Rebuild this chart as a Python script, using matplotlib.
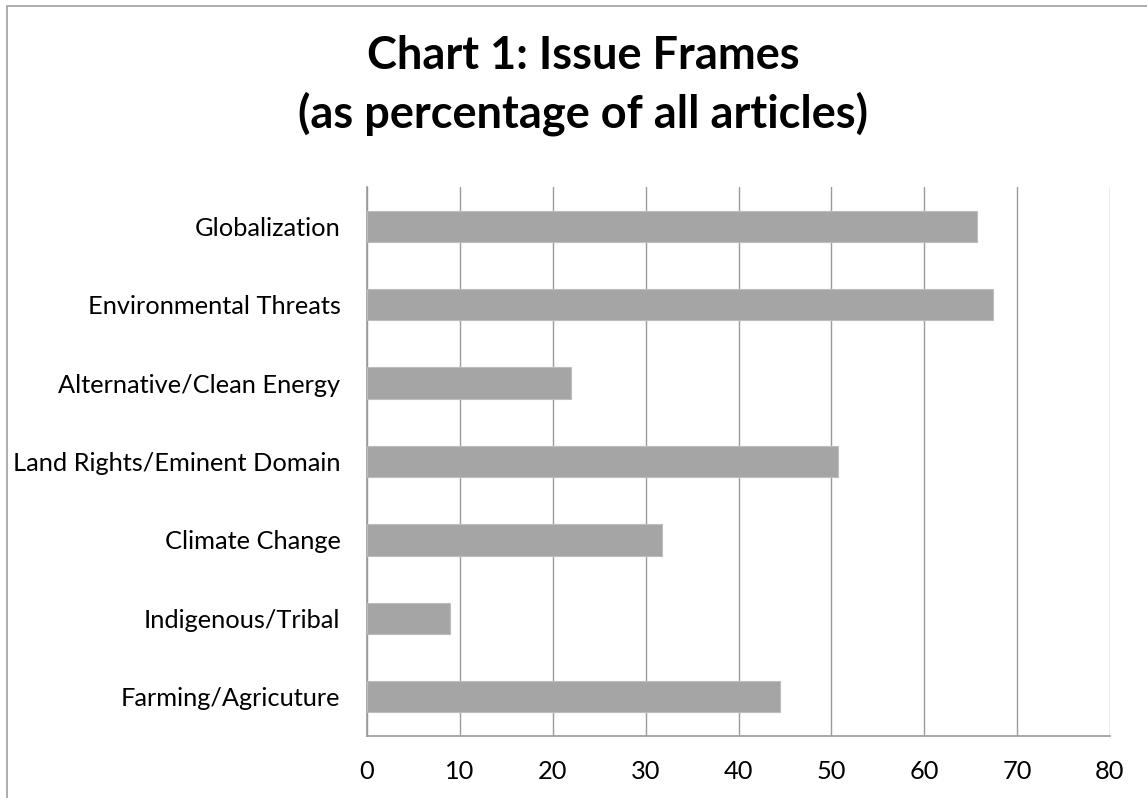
#!/usr/bin/env python3
"""Horizontal bar chart: issue frames as percentage of all articles."""

import matplotlib

matplotlib.use("Agg")
import matplotlib.pyplot as plt
from matplotlib.patches import Rectangle

# Data (top to bottom as shown in the chart)
CATEGORIES = [
    "Globalization",
    "Environmental Threats",
    "Alternative/Clean Energy",
    "Land Rights/Eminent Domain",
    "Climate Change",
    "Indigenous/Tribal",
    "Farming/Agricuture",
]
PERCENTAGES = [65.7, 67.4, 22.0, 50.7, 31.8, 8.9, 44.5]
X_TICKS = [0, 10, 20, 30, 40, 50, 60, 70, 80]

TITLE_LINES = ["Chart 1: Issue Frames", "(as percentage of all articles)"]

BAR_COLOR = "#a5a5a5"
BAR_EDGE = "#bdbdbd"
GRID = "#9a9a9a"
BORDER = "#a0a0a0"
INK = "#000000"

plt.rcParams["font.family"] = ["Lato", "DejaVu Sans"]

W, H = 1147, 798


def main():
    fig = plt.figure(figsize=(W / 100, H / 100), dpi=100)
    fig.patch.set_facecolor("white")

    # chart frame (right and bottom edges fall outside the picture)
    fig.patches.append(
        Rectangle((7 / W, -0.1), 1.2, (H - 6) / H + 0.1,
                  transform=fig.transFigure, fill=False,
                  edgecolor=BORDER, linewidth=1.2)
    )

    ax = fig.add_axes([367 / W, (H - 736) / H, (1110 - 367) / W, (736 - 187) / H])

    y = list(range(len(CATEGORIES)))[::-1]
    ax.barh(y, PERCENTAGES, height=0.4, color=BAR_COLOR,
            edgecolor=BAR_EDGE, linewidth=0.8, zorder=3)

    ax.set_xlim(0, 80)
    ax.set_ylim(-0.5, len(CATEGORIES) - 0.5)
    ax.set_xticks(X_TICKS)
    ax.set_yticks(y)
    ax.set_yticklabels(CATEGORIES)

    ax.grid(True, axis="x", color=GRID, linewidth=1.0, zorder=0)
    ax.tick_params(axis="both", length=0, labelsize=18.3, colors=INK)
    ax.tick_params(axis="y", pad=19)
    ax.tick_params(axis="x", pad=17)

    for side in ("top", "right"):
        ax.spines[side].set_visible(False)
    for side in ("left", "bottom"):
        ax.spines[side].set_color(GRID)
        ax.spines[side].set_linewidth(1.2)

    fig.text(583 / W, (H - 69) / H, TITLE_LINES[0], ha="center", va="baseline",
             fontsize=32.5, fontweight="bold", color=INK)
    fig.text(583 / W, (H - 127) / H, TITLE_LINES[1], ha="center", va="baseline",
             fontsize=32.5, fontweight="bold", color=INK)

    fig.savefig("out.png", dpi=100, facecolor="white")


if __name__ == "__main__":
    main()
